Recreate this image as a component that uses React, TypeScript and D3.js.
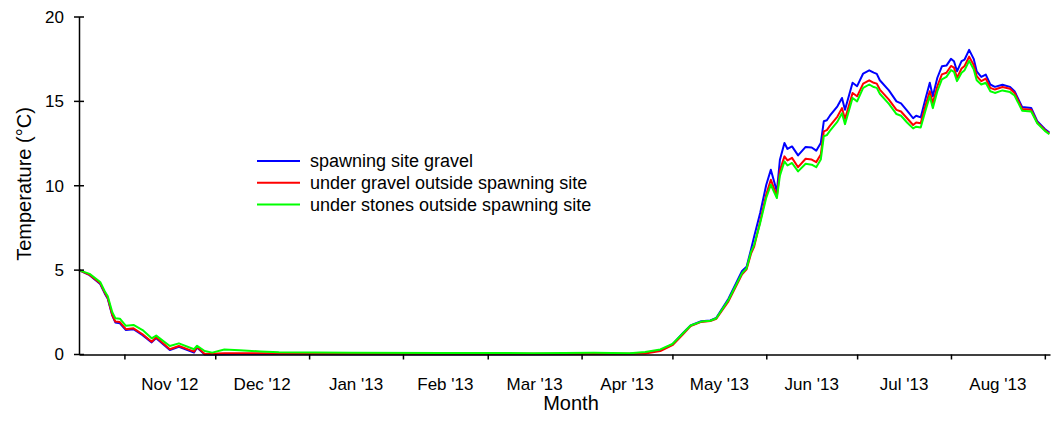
import React, { useEffect, useRef } from "react";
import * as d3 from "d3";

// days after 17 Oct 2012
const dayOffsets = [
  0, 3.5, 7, 8.5, 9.5, 11, 12, 13.5, 15.5, 18, 21, 24, 25.5, 30, 33, 38, 39, 41.5, 44, 48, 53, 60, 66,
  90, 120, 150, 170, 182, 187, 192, 196, 199.5, 202, 205.5, 208.5, 210.5, 214.5, 219, 220.5, 222, 223,
  225, 227, 228.5, 230.5, 231.5, 233, 234, 235.5, 237.5, 240, 242, 243.5, 245, 246, 247, 248, 250.5,
  252, 253, 255.5, 257, 259, 261, 262.5, 263.5, 264.5, 267.5, 270, 271.5, 273.5, 275.5, 276.5, 278,
  279.5, 281, 282, 283.5, 285, 286.5, 288, 289, 290, 291.5, 292.5, 294, 295.5, 296.5, 298, 299.5, 301,
  302.5, 305, 307.5, 309, 311.5, 314.5, 316.5, 319, 320.5,
];

const spawningGravel = [
  5.0, 4.7, 4.18, 3.62, 3.3, 2.3, 1.9, 1.85, 1.45, 1.5, 1.15, 0.72, 0.97, 0.27, 0.45, 0.12, 0.42, 0.0, 0.0, 0.02, 0.03, 0.03, 0.03,
  0.02, 0.02, 0.02, 0.03, 0.05, 0.1, 0.25, 0.6, 1.28, 1.72, 1.97, 2.02, 2.17, 3.3, 4.95, 5.2, 6.25, 7.0,
  8.4, 10.06, 10.95, 9.66, 11.54, 12.53, 12.18, 12.33, 11.8, 12.3, 12.27, 12.08, 12.53, 13.82, 13.88, 14.15, 14.71,
  15.2, 14.5, 16.1, 15.9, 16.65, 16.84, 16.7, 16.63, 16.25, 15.65, 15.0, 14.88, 14.45, 14.0, 14.15, 14.05,
  15.1, 16.1, 15.3, 16.4, 17.08, 17.12, 17.52, 17.38, 16.78, 17.38, 17.48, 18.05, 17.52, 16.78, 16.45, 16.59, 16.0,
  15.86, 15.99, 15.86, 15.6, 14.67, 14.61, 13.82, 13.36, 13.15,
];

const gravelOutside = [
  5.0, 4.72, 4.22, 3.67, 3.35, 2.34, 1.95, 1.92, 1.5, 1.55, 1.2, 0.76, 1.02, 0.31, 0.5, 0.17, 0.46, 0.03, 0.05, 0.08, 0.08, 0.07, 0.06,
  0.04, 0.04, 0.04, 0.04, 0.04, 0.06, 0.2, 0.55, 1.2, 1.68, 1.93, 1.98, 2.12, 3.15, 4.75, 5.05, 6.0, 6.4,
  7.9, 9.5, 10.36, 9.37, 10.9, 11.74, 11.5, 11.65, 11.1, 11.6, 11.55, 11.4, 11.85, 13.22, 13.3, 13.55, 14.1,
  14.6, 13.95, 15.5, 15.3, 16.05, 16.25, 16.1, 16.05, 15.7, 15.1, 14.5, 14.4, 14.0, 13.6, 13.75, 13.7,
  14.7, 15.6, 14.9, 15.9, 16.6, 16.7, 17.1, 17.0, 16.4, 16.95, 17.1, 17.65, 17.15, 16.5, 16.2, 16.35, 15.8,
  15.7, 15.85, 15.75, 15.5, 14.55, 14.5, 13.75, 13.3, 13.1,
];

const stonesOutside = [
  5.0, 4.78, 4.3, 3.75, 3.45, 2.5, 2.15, 2.12, 1.7, 1.75, 1.45, 0.96, 1.12, 0.5, 0.66, 0.31, 0.52, 0.21, 0.11, 0.3, 0.25, 0.18, 0.13,
  0.1, 0.09, 0.08, 0.1, 0.08, 0.15, 0.3, 0.62, 1.26, 1.72, 1.95, 2.0, 2.15, 3.23, 4.82, 5.11, 6.1, 6.5,
  7.8, 9.3, 10.06, 9.27, 10.6, 11.44, 11.2, 11.35, 10.85, 11.3, 11.25, 11.1, 11.55, 12.93, 13.0, 13.25, 13.8,
  14.3, 13.65, 15.2, 15.0, 15.8, 16.0, 15.85, 15.8, 15.45, 14.85, 14.25, 14.15, 13.75, 13.4, 13.5, 13.45,
  14.4, 15.3, 14.6, 15.6, 16.3, 16.45, 16.85, 16.75, 16.2, 16.7, 16.85, 17.4, 16.9, 16.25, 16.0, 16.1, 15.6,
  15.5, 15.65, 15.55, 15.35, 14.45, 14.4, 13.7, 13.25, 13.05,
];

const seriesNames = [
  "spawning site gravel",
  "under gravel outside spawning site",
  "under stones outside spawning site",
];
const seriesColors = ["#0000ff", "#ff0000", "#00ff00"];
const monthLabels = [
  "Nov '12", "Dec '12", "Jan '13", "Feb '13", "Mar '13",
  "Apr '13", "May '13", "Jun '13", "Jul '13", "Aug '13",
];
const yTicks = [0, 5, 10, 15, 20];

const FONT = "'Liberation Sans', Arial, sans-serif";

const App = () => {
  const svgRef = useRef<SVGSVGElement>(null);

  useEffect(() => {
    const w = 1051;
    const h = 421;
    const svg = d3.select(svgRef.current).attr("width", w).attr("height", h);
    svg.selectAll("*").remove();

    const start = new Date(2012, 9, 17);
    const xScale = d3
      .scaleTime()
      .domain([start, new Date(2013, 8, 2, 17)])
      .range([79, 1050]);
    const yScale = d3.scaleLinear().domain([0, 20]).range([354.5, 17]);

    const dates = dayOffsets.map((d) => d3.timeHour.offset(start, Math.round(d * 24)));

    // lines
    const line = d3
      .line<number>()
      .x((d, i) => xScale(dates[i]))
      .y((d) => yScale(d));

    [spawningGravel, gravelOutside, stonesOutside].forEach((values, k) => {
      svg
        .append("path")
        .attr("d", line(values))
        .attr("fill", "none")
        .attr("stroke", seriesColors[k])
        .attr("stroke-width", 2)
        .attr("stroke-linejoin", "round");
    });

    // y axis
    const yAxis = svg.append("g");
    yAxis
      .append("line")
      .attr("x1", 79.5)
      .attr("x2", 79.5)
      .attr("y1", yScale(20))
      .attr("y2", yScale(0))
      .attr("stroke", "#000")
      .attr("stroke-width", 1.5);
    yTicks.forEach((t) => {
      yAxis
        .append("line")
        .attr("x1", 74)
        .attr("x2", 84)
        .attr("y1", yScale(t))
        .attr("y2", yScale(t))
        .attr("stroke", "#000")
        .attr("stroke-width", 1.5);
      yAxis
        .append("text")
        .attr("x", 64)
        .attr("y", yScale(t))
        .attr("dy", "0.35em")
        .attr("text-anchor", "end")
        .style("font-family", FONT)
        .style("font-size", "17px")
        .text(t);
    });

    // x axis
    const monthTicks = d3.timeMonth.range(new Date(2012, 10, 1), new Date(2013, 8, 2));
    const xAxis = d3
      .axisBottom(xScale)
      .tickValues(monthTicks)
      .tickSize(5)
      .tickSizeOuter(0)
      .tickFormat(() => "");
    const gx = svg.append("g").attr("transform", "translate(0,354.5)").call(xAxis);
    gx.selectAll("path, line").attr("stroke", "#000").attr("stroke-width", 1.5);

    monthLabels.forEach((lab, i) => {
      const mid = (xScale(monthTicks[i]) + xScale(monthTicks[i + 1])) / 2;
      svg
        .append("text")
        .attr("x", mid)
        .attr("y", 390)
        .attr("text-anchor", "middle")
        .style("font-family", FONT)
        .style("font-size", "17px")
        .text(lab);
    });

    svg
      .append("text")
      .attr("x", 571)
      .attr("y", 410)
      .attr("text-anchor", "middle")
      .style("font-family", FONT)
      .style("font-size", "20px")
      .text("Month");

    svg
      .append("text")
      .attr("transform", "translate(31,184) rotate(-90)")
      .attr("text-anchor", "middle")
      .style("font-family", FONT)
      .style("font-size", "20px")
      .text("Temperature (°C)");

    // legend
    seriesNames.forEach((name, i) => {
      const y = 161 + i * 21.7;
      svg
        .append("line")
        .attr("x1", 257)
        .attr("x2", 300)
        .attr("y1", y)
        .attr("y2", y)
        .attr("stroke", seriesColors[i])
        .attr("stroke-width", 2);
      svg
        .append("text")
        .attr("x", 310)
        .attr("y", y)
        .attr("dy", "0.35em")
        .style("font-family", FONT)
        .style("font-size", "18px")
        .text(name);
    });
  }, []);

  return (
    <div style={{ position: "absolute", left: 0, top: 0 }}>
      <svg ref={svgRef} style={{ display: "block", background: "#fff" }}></svg>
    </div>
  );
};

export default App;
